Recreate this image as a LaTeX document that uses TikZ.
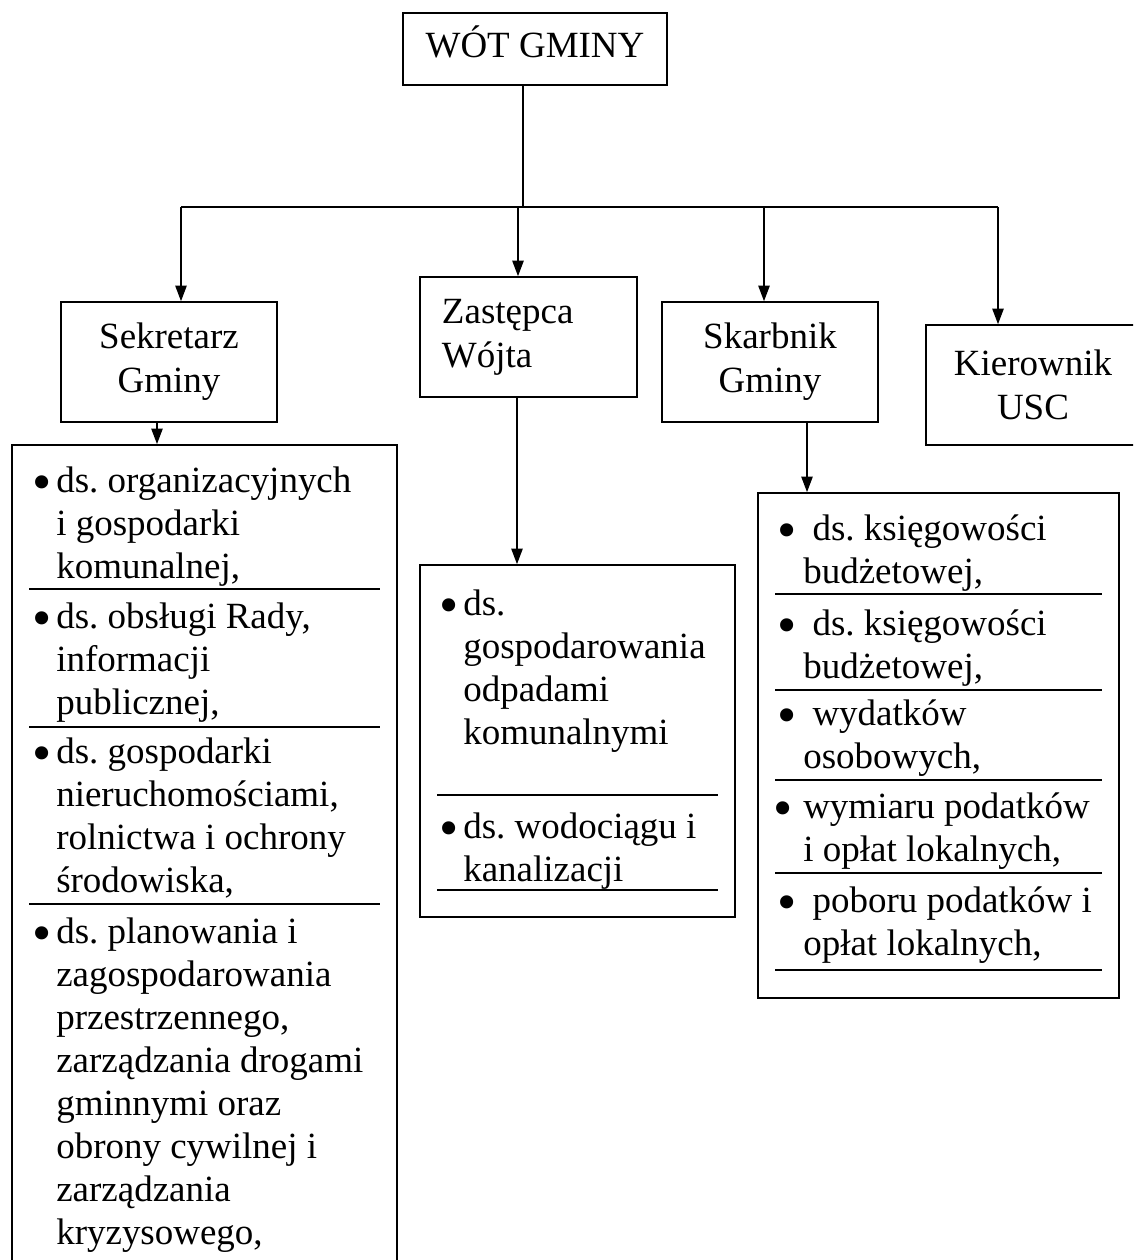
\documentclass[tikz,border=0pt]{standalone}
\usepackage{fontspec}
\setmainfont{Liberation Serif}
\usetikzlibrary{arrows.meta}

\newcommand{\wiersze}[1]{\begin{tabular}[t]{@{}l@{}}#1\end{tabular}}
\frenchspacing

\tikzset{
  glowna/.style={draw,line width=1.1pt,inner sep=0pt,font=\fontsize{26.3}{31.3}\selectfont},
  ramka/.style={glowna,align=center},
  lista/.style={draw,line width=1.1pt,inner sep=0pt},
  punkt/.style={anchor=base,inner sep=0pt,yshift=-0.215cm,font=\fontsize{39}{39}\selectfont},
  opis/.style={anchor=base west,inner sep=0pt,font=\fontsize{26.3}{30.6}\selectfont},
  linia/.style={line width=1.1pt},
  strzalka/.style={line width=1.1pt,-{Triangle[length=11pt,width=8pt]}},
  kreska/.style={line width=1pt}
}

\begin{document}
\begin{tikzpicture}[x=0.025cm,y=-0.025cm]
\useasboundingbox (0,0) rectangle (1133,1260);
\clip (0,0) rectangle (1133,1260);

% gora
\node[glowna,minimum width=6.6cm,minimum height=1.8cm,text height=18pt,text depth=5.2pt] (wojt) at (535,49) {WÓT GMINY};

\node[ramka,minimum width=5.4cm,minimum height=3cm] (sekretarz) at (169,362) {Sekretarz\\Gminy};
\node[glowna,align=left,text width=4.325cm,inner xsep=0.55cm,minimum height=3cm] (zastepca) at (528.5,337) {Zastępca\\Wójta};
\node[ramka,minimum width=5.4cm,minimum height=3cm] (skarbnik) at (770,362) {Skarbnik\\Gminy};
\node[ramka,minimum width=5.35cm,minimum height=3cm] (kierownik) at (1033,385) {Kierownik\\USC};

% szyna
\coordinate (w1) at (181,207);
\coordinate (w2) at (518,207);
\coordinate (w3) at (764,207);
\coordinate (w4) at (998,207);
\coordinate (wezel) at (523,207);
\draw[linia] (wojt.south -| wezel) -- (wezel);
\draw[linia] (w1) -- (w4);
\draw[strzalka] (w1) -- (w1 |- sekretarz.north);
\draw[strzalka] (w2) -- (w2 |- zastepca.north);
\draw[strzalka] (w3) -- (w3 |- skarbnik.north);
\draw[strzalka] (w4) -- (w4 |- kierownik.north);

% listy
\node[lista,minimum width=9.625cm,minimum height=21.375cm] (listaS) at (204.5,872.5) {};
\node[lista,minimum width=7.875cm,minimum height=8.8cm] (listaZ) at (577.5,741) {};
\node[lista,minimum width=9.025cm,minimum height=12.625cm] (listaK) at (938.5,745.5) {};

\coordinate (sS) at ([xshift=-0.3cm]sekretarz.south);
\coordinate (sZ) at ([xshift=-0.2875cm]zastepca.south);
\coordinate (sK) at ([xshift=0.925cm]skarbnik.south);
\draw[strzalka] (sS) -- (sS |- listaS.north);
\draw[strzalka] (sZ) -- (sZ |- listaZ.north);
\draw[strzalka] (sK) -- (sK |- listaK.north);

% Sekretarz
\node[punkt] (s1p) at (42,492) {\textbullet};
\node[opis] (s1) at (56,492) {\wiersze{ds. organizacyjnych\\i gospodarki\\komunalnej,}};
\node[punkt] (s2p) at (42,628) {\textbullet};
\node[opis] (s2) at (56,628) {\wiersze{ds. obsługi Rady,\\informacji\\publicznej,}};
\node[punkt] (s3p) at (42,763) {\textbullet};
\node[opis] (s3) at (56,763) {\wiersze{ds. gospodarki\\nieruchomościami,\\rolnictwa i ochrony\\środowiska,}};
\node[punkt] (s4p) at (42,943) {\textbullet};
\node[opis] (s4) at (56,943) {\wiersze{ds. planowania i\\zagospodarowania\\przestrzennego,\\zarządzania drogami\\gminnymi oraz\\obrony cywilnej i\\zarządzania\\kryzysowego,}};
\foreach \y in {589,727,904}
  \draw[kreska] (29,\y) -- (380,\y);

% Zastepca
\node[punkt] (z1p) at (449,615) {\textbullet};
\node[opis] (z1) at (463,615) {\wiersze{ds.\\gospodarowania\\odpadami\\komunalnymi}};
\node[punkt] (z2p) at (449,838) {\textbullet};
\node[opis] (z2) at (463,838) {\wiersze{ds. wodociągu i\\kanalizacji}};
\foreach \y in {795,890}
  \draw[kreska] (437,\y) -- (718,\y);

% Skarbnik
\node[punkt] (k1p) at (787,540) {\textbullet};
\node[opis] (k1) at (803,540) {\wiersze{\ ds. księgowości\\budżetowej,}};
\node[punkt] (k2p) at (787,635) {\textbullet};
\node[opis] (k2) at (803,635) {\wiersze{\ ds. księgowości\\budżetowej,}};
\node[punkt] (k3p) at (787,725) {\textbullet};
\node[opis] (k3) at (803,725) {\wiersze{\ wydatków\\osobowych,}};
\node[punkt] (k4p) at (783,818) {\textbullet};
\node[opis] (k4) at (803,818) {\wiersze{wymiaru podatków\\i opłat lokalnych,}};
\node[punkt] (k5p) at (787,912) {\textbullet};
\node[opis] (k5) at (803,912) {\wiersze{\ poboru podatków i\\opłat lokalnych,}};
\foreach \y in {594,690,780,873,970}
  \draw[kreska] (775,\y) -- (1102,\y);
\end{tikzpicture}
\end{document}
